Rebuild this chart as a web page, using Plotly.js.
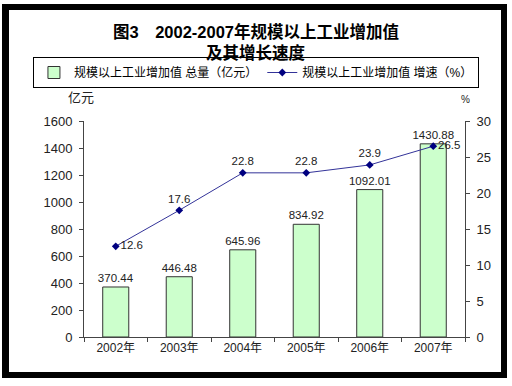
<!DOCTYPE html>
<html><head><meta charset="utf-8">
<script src="https://cdn.plot.ly/plotly-3.0.1.min.js"></script>
<style>
html,body{margin:0;padding:0;background:#fff;}
#chart{width:512px;height:386px;}
#frame{position:absolute;left:2px;top:4px;width:505px;height:374px;box-sizing:border-box;border:6px solid #000;border-left-width:7px;pointer-events:none;}
</style></head>
<body>
<div id="chart"></div>
<div id="frame"></div>
<script>
const years = ['2002年','2003年','2004年','2005年','2006年','2007年'];
const totals = [370.44, 446.48, 645.96, 834.92, 1092.01, 1430.88];
const growth = [12.6, 17.6, 22.8, 22.8, 23.9, 26.5];
const totalLabels = ['370.44','446.48','645.96','834.92','1092.01','1430.88'];
const growthLabels = ['12.6','17.6','22.8','22.8','23.9','26.5'];

const fontLatin = 'Arial, "Liberation Sans", "Noto Sans CJK SC", sans-serif';
const fontTitle = 'Arial, "Noto Sans CJK SC", sans-serif';

const traces = [
  {
    type:'bar', x:years, y:totals, name:'规模以上工业增加值 总量（亿元）',
    marker:{color:'#ccffcc', line:{color:'#333333', width:1}},
    text:totalLabels, textposition:'outside', cliponaxis:false, constraintext:'none',
    textfont:{size:11.5, color:'#222', family:fontLatin},
    yaxis:'y'
  },
  {
    type:'scatter', mode:'lines+markers+text', x:years, y:growth, name:'规模以上工业增加值 增速（%）',
    line:{color:'#333399', width:1},
    marker:{symbol:'diamond', size:6, color:'#000080'},
    text:growthLabels,
    textposition:['middle right','top center','top center','top center','top center','middle right'],
    textfont:{size:11.5, color:'#222', family:fontLatin},
    cliponaxis:false,
    yaxis:'y2'
  }
];

const layout = {
  width:512, height:386,
  margin:{l:84, r:47, t:121, b:49},
  paper_bgcolor:'#fff', plot_bgcolor:'#fff',
  font:{family:fontLatin, size:12, color:'#222'},
  title:{text:'<b>图3　2002-2007年规模以上工业增加值</b>', x:0.5, xanchor:'center',
    yref:'container', y:1-32/386, yanchor:'middle',
    font:{size:16.5, color:'#000', family:fontTitle}},
  bargap:0.59,
  showlegend:true,
  legend:{orientation:'h', xref:'paper', x:-0.134, xanchor:'left', yref:'paper', y:(337-88)/216, yanchor:'bottom',
    bordercolor:'#000', borderwidth:1, bgcolor:'#fff',
    font:{size:12, color:'#000'}, itemwidth:30, tracegroupgap:0},
  xaxis:{type:'category', showline:true, linecolor:'#444', linewidth:1,
    ticks:'outside', tickson:'boundaries', ticklen:4, tickcolor:'#444',
    showgrid:false, tickfont:{size:12}},
  yaxis:{range:[0,1600], dtick:200, showline:true, linecolor:'#444', linewidth:1,
    ticks:'outside', ticklen:4, tickcolor:'#444', showgrid:false, zeroline:false,
    tickfont:{size:13}, ticklabelstandoff:4},
  yaxis2:{range:[0,30], dtick:5, overlaying:'y', side:'right', showline:true, linecolor:'#444', linewidth:1,
    ticks:'outside', ticklen:4, tickcolor:'#444', showgrid:false, zeroline:false,
    tickfont:{size:13}, ticklabelstandoff:4},
  annotations:[
    {text:'<b>及其增长速度</b>', xref:'paper', yref:'paper', x:(256-84)/381, y:(337-53)/216, xanchor:'center', yanchor:'middle', showarrow:false, font:{size:16.5, color:'#000', family:fontTitle}},
    {text:'亿元', xref:'paper', yref:'paper', x:0.0, y:1.11, xanchor:'right', yanchor:'middle', showarrow:false, xshift:12, font:{size:13, color:'#222'}},
    {text:'%', xref:'paper', yref:'paper', x:1.0, y:1.1, xanchor:'center', yanchor:'middle', showarrow:false, font:{size:10, color:'#222'}}
  ]
};

Plotly.newPlot('chart', traces, layout, {displayModeBar:false, staticPlot:true});
</script>
</body></html>
